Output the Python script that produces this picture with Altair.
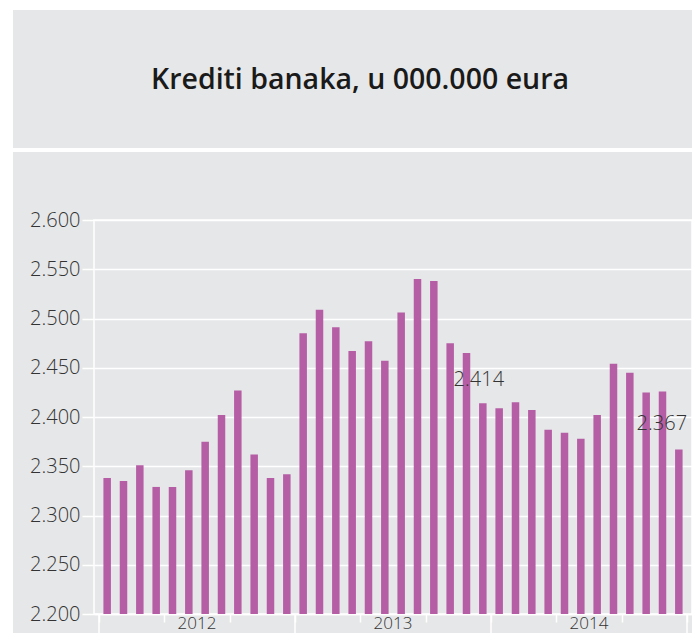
import altair as alt
import pandas as pd

# ---- data ----
years = ["2012", "2013", "2014"]
values_2012 = [2338, 2335, 2351, 2329, 2329, 2346, 2375, 2402, 2427, 2362, 2338, 2342]
values_2013 = [2485, 2509, 2491, 2467, 2477, 2457, 2506, 2540, 2538, 2475, 2465, 2414]
values_2014 = [2409, 2415, 2407, 2387, 2384, 2378, 2402, 2454, 2445, 2425, 2426, 2367]
labelled = {"2013-12": "2.414", "2014-12": "2.367"}
title_text = "Krediti banaka, u 000.000 eura"

all_values = values_2012 + values_2013 + values_2014
rows = []
for i, v in enumerate(all_values):
    y = years[i // 12]
    m = i % 12 + 1
    rows.append({"pos": i + 0.5, "value": v, "key": f"{y}-{m:02d}"})
df = pd.DataFrame(rows)

year_df = pd.DataFrame({"pos": [6, 18, 30], "year": years})
sep_df = pd.DataFrame({"pos": [0, 12, 24, 36]})
one = pd.DataFrame({"a": [0]})

BG = "#e6e7e8"
BAR = "#b55ea6"
TXT = "#333333"
FONT = "Open Sans"

W, H = 598, 394
PAD = {"left": 86, "top": 212, "right": 0, "bottom": 19}

xscale = alt.Scale(domain=[0, 36], nice=False, zero=False)
yscale = alt.Scale(domain=[2200, 2600], nice=False, zero=False)

bars = alt.Chart(df).mark_bar(size=7.5, color=BAR).encode(
    x=alt.X("pos:Q", scale=xscale,
            axis=alt.Axis(values=list(range(37)), labels=False, ticks=True,
                          tickSize=8, tickColor="white", tickWidth=1.5,
                          domainColor="white", domainWidth=1.5, grid=False,
                          title=None)),
    y=alt.Y("value:Q", scale=yscale,
            axis=alt.Axis(values=list(range(2200, 2601, 50)),
                          labelExpr="replace(format(datum.value, ','), ',', '.')",
                          tickSize=12, tickColor="white", tickWidth=1.5,
                          labelPadding=2, labelFontSize=20, labelColor=TXT,
                          labelFont=FONT, labelFontWeight=300,
                          gridColor="white", gridWidth=1.5,
                          domain=False, title=None)),
    y2=alt.datum(2200),
)

lab1 = alt.Chart(df[df["key"] == "2013-12"]).mark_text(
    dx=-4, dy=-23, fontSize=20, font=FONT, fontWeight=300, color=TXT
).encode(x="pos:Q", y="value:Q", text=alt.value(labelled["2013-12"]))

lab2 = alt.Chart(df[df["key"] == "2014-12"]).mark_text(
    dx=-17, dy=-26, fontSize=20, font=FONT, fontWeight=300, color=TXT
).encode(x="pos:Q", y="value:Q", text=alt.value(labelled["2014-12"]))

seps = alt.Chart(sep_df).mark_rule(color="white", strokeWidth=1.5).encode(
    x="pos:Q", y=alt.value(H), y2=alt.value(H + 50)
)

year_labels = alt.Chart(year_df).mark_text(
    baseline="alphabetic", fontSize=17, font=FONT, fontWeight=300, color=TXT
).encode(x="pos:Q", y=alt.value(H + 15), text="year:N")

title = alt.Chart(one).mark_text(
    fontSize=28.5, font=FONT, fontWeight=600, color="#1a1a1a"
).encode(x=alt.value(266), y=alt.value(-140), text=alt.value(title_text))

stripe = alt.Chart(one).mark_rule(color="white", strokeWidth=4).encode(
    x=alt.value(-86), x2=alt.value(W + 6), y=alt.value(-70)
)
top_band = alt.Chart(one).mark_rule(color="white", strokeWidth=2).encode(
    x=alt.value(-86), x2=alt.value(W + 6), y=alt.value(-211)
)
left_band = alt.Chart(one).mark_rule(color="white", strokeWidth=5).encode(
    x=alt.value(-83.5), y=alt.value(-212), y2=alt.value(H + 40)
)

chart = alt.layer(
    bars, seps, lab1, lab2, year_labels, title, stripe, top_band, left_band
).properties(
    width=W, height=H, background=BG, padding=PAD,
    autosize=alt.AutoSizeParams(type="none"),
).configure_view(stroke="white", strokeWidth=1.5)

chart.save("out.html", embed_options={"renderer": "svg", "actions": False})
